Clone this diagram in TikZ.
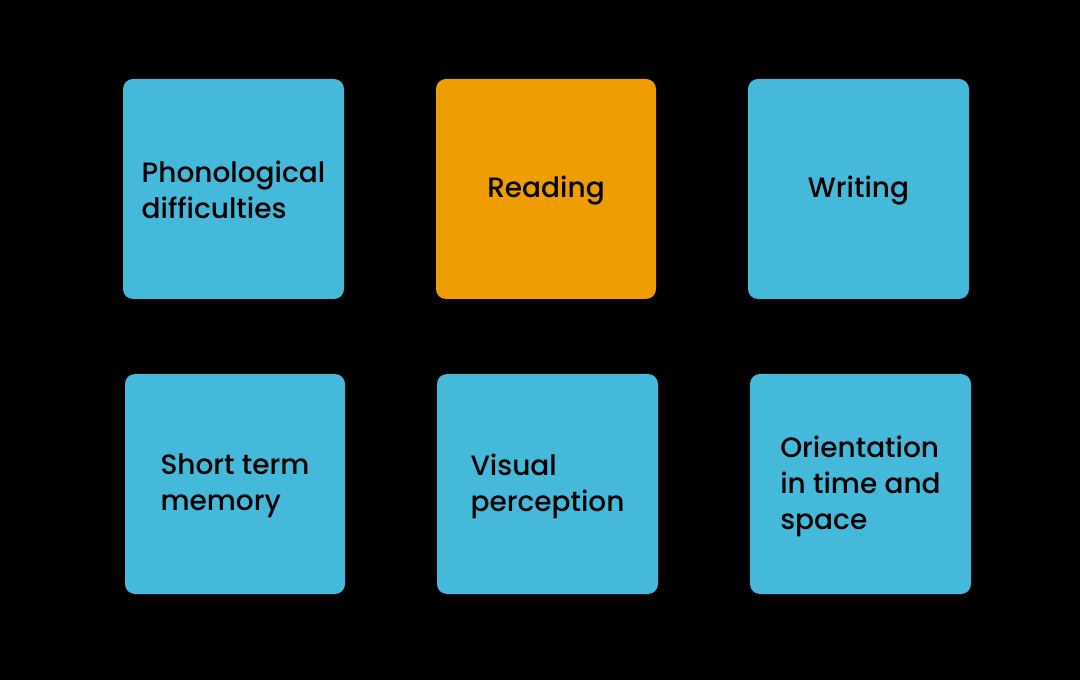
\documentclass[tikz,border=0pt]{standalone}
\usepackage{fontspec}
\setmainfont{Poppins}[UprightFont={* Medium}]
\definecolor{bluebox}{HTML}{45B9DA}
\definecolor{orangebox}{HTML}{F09D00}
\tikzset{
  card/.style={rounded corners=7.5pt, fill=bluebox, draw=none},
  hot/.style={card, fill=orangebox},
  label/.style={align=left, font=\fontsize{21}{27}\selectfont, text=black, inner sep=0pt}
}
\begin{document}
\begin{tikzpicture}[x=0.75pt,y=-0.75pt]
\fill[black] (0,0) rectangle (1080,680);
\useasboundingbox (0,0) rectangle (1080,680);
\path[card] (123,79) rectangle (344,299);
\coordinate (c1) at (233.5,190);
\path[hot] (436,79) rectangle (656,299);
\coordinate (c2) at (546,191);
\path[card] (748,79) rectangle (969,299);
\coordinate (c3) at (858.5,191);
\path[card] (125,374) rectangle (345,594);
\coordinate (c4) at (235,486);
\path[card] (437,374) rectangle (658,594);
\coordinate (c5) at (547.5,486);
\path[card] (750,374) rectangle (971,594);
\coordinate (c6) at (860.5,486);
\node[label] (t1) at (c1) {Phonological\\difficulties};
\node[label] (t2) at (c2) {Reading};
\node[label] (t3) at (c3) {Writing};
\node[label] (t4) at (c4) {Short term\\memory};
\node[label] (t5) at (c5) {Visual\\perception};
\node[label] (t6) at (c6) {Orientation\\in time and\\space};
\end{tikzpicture}
\end{document}
